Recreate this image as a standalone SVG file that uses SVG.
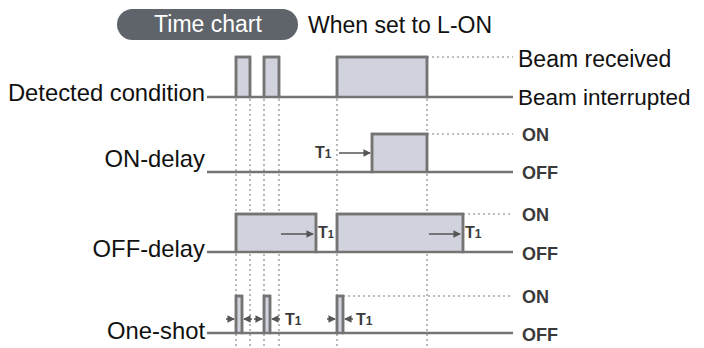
<svg xmlns="http://www.w3.org/2000/svg" width="704" height="348" viewBox="0 0 704 348">
<style>
  .lbl { font-family: "Liberation Sans", Arial, sans-serif; font-size: 23px; fill: #111; }
  .lbl2 { font-family: "Liberation Sans", Arial, sans-serif; font-size: 23.8px; fill: #111; }
  .lvl { font-family: "Liberation Sans", Arial, sans-serif; font-size: 18px; font-weight: bold; fill: #3a3a3a; }
  .t1 { font-family: "Liberation Sans", Arial, sans-serif; font-size: 16px; font-weight: bold; fill: #3a3a3a; }
  .wave { fill: #d0d2dd; stroke: #747474; stroke-width: 2.5; stroke-linejoin: miter; }
  .line { fill: none; stroke: #747474; stroke-width: 2.5; }
  .guide { fill: none; stroke: #a8a8a8; stroke-width: 1.6; stroke-dasharray: 2 3; }
  .arr { fill: none; stroke: #555; stroke-width: 1.5; }
</style>
<defs>
  <marker id="ah" viewBox="0 0 8 8" refX="7" refY="4" markerWidth="5" markerHeight="5" orient="auto-start-reverse">
    <path d="M0,0 L8,4 L0,8 Z" fill="#555"/>
  </marker>
</defs>
<rect width="704" height="348" fill="#ffffff"/>

<g id="title">
  <rect x="117" y="9" width="181" height="31" rx="15.5" fill="#5e646a"/>
  <text x="208" y="32" text-anchor="middle" class="lbl" style="fill:#ffffff">Time chart</text>
  <text x="308" y="33" class="lbl">When set to L-ON</text>
</g>

<g id="guides">
  <line class="guide" x1="236" y1="99" x2="236" y2="348"/>
  <line class="guide" x1="250" y1="99" x2="250" y2="348"/>
  <line class="guide" x1="264" y1="99" x2="264" y2="348"/>
  <line class="guide" x1="279" y1="99" x2="279" y2="348"/>
  <line class="guide" x1="337" y1="99" x2="337" y2="348"/>
  <line class="guide" x1="427" y1="99" x2="427" y2="348"/>
  <line class="guide" x1="427" y1="57" x2="513" y2="57"/>
  <line class="guide" x1="427" y1="134" x2="513" y2="134"/>
  <line class="guide" x1="463" y1="214" x2="513" y2="214"/>
  <line class="guide" x1="343" y1="296" x2="513" y2="296"/>
</g>

<g id="detected">
  <text x="205" y="101" text-anchor="end" class="lbl2">Detected condition</text>
  <path class="wave" d="M236,97 V57 H250 V97 Z"/>
  <path class="wave" d="M264,97 V57 H279 V97 Z"/>
  <path class="wave" d="M337,97 V57 H427 V97 Z"/>
  <path class="line" d="M207,97 H236 V57 H250 V97 H264 V57 H279 V97 H337 V57 H427 V97 H513"/>
  <text x="518" y="67" class="lbl">Beam received</text>
  <text x="518" y="105" class="lbl" style="font-size:22.5px">Beam interrupted</text>
</g>

<g id="on-delay">
  <text x="205" y="167" text-anchor="end" class="lbl2">ON-delay</text>
  <path class="wave" d="M372,172 V134 H427 V172 Z"/>
  <path class="line" d="M207,172 H372 V134 H427 V172 H513"/>
  <text x="315" y="158" class="t1">T<tspan font-size="12">1</tspan></text>
  <line class="arr" x1="339" y1="153" x2="370" y2="153" marker-end="url(#ah)"/>
  <text x="522" y="141" class="lvl">ON</text>
  <text x="522" y="179" class="lvl">OFF</text>
</g>

<g id="off-delay">
  <text x="205" y="257" text-anchor="end" class="lbl2">OFF-delay</text>
  <path class="wave" d="M236,252 V214 H316 V252 Z"/>
  <path class="wave" d="M337,252 V214 H463 V252 Z"/>
  <path class="line" d="M207,252 H236 V214 H316 V252 H337 V214 H463 V252 H513"/>
  <line class="arr" x1="281" y1="234" x2="313" y2="234" marker-end="url(#ah)"/>
  <text x="318" y="238" class="t1" font-size="14">T<tspan font-size="11">1</tspan></text>
  <line class="arr" x1="429" y1="234" x2="460" y2="234" marker-end="url(#ah)"/>
  <text x="465" y="238" class="t1">T<tspan font-size="12">1</tspan></text>
  <text x="522" y="221" class="lvl">ON</text>
  <text x="522" y="260" class="lvl">OFF</text>
</g>

<g id="one-shot">
  <text x="205" y="339" text-anchor="end" class="lbl2">One-shot</text>
  <path class="wave" d="M236,333 V296 H242 V333 Z"/>
  <path class="wave" d="M264,333 V296 H270 V333 Z"/>
  <path class="wave" d="M337,333 V296 H343 V333 Z"/>
  <path class="line" d="M207,333 H236 V296 H242 V333 H264 V296 H270 V333 H337 V296 H343 V333 H513"/>
  <line class="arr" x1="226" y1="319" x2="234" y2="319" marker-end="url(#ah)"/>
  <line class="arr" x1="252" y1="319" x2="244" y2="319" marker-end="url(#ah)"/>
  <line class="arr" x1="254" y1="319" x2="262" y2="319" marker-end="url(#ah)"/>
  <line class="arr" x1="280" y1="319" x2="272" y2="319" marker-end="url(#ah)"/>
  <text x="285" y="325" class="t1">T<tspan font-size="12">1</tspan></text>
  <line class="arr" x1="327" y1="319" x2="335" y2="319" marker-end="url(#ah)"/>
  <line class="arr" x1="353" y1="319" x2="345" y2="319" marker-end="url(#ah)"/>
  <text x="356" y="325" class="t1">T<tspan font-size="12">1</tspan></text>
  <text x="522" y="303" class="lvl">ON</text>
  <text x="522" y="341" class="lvl">OFF</text>
</g>
</svg>
